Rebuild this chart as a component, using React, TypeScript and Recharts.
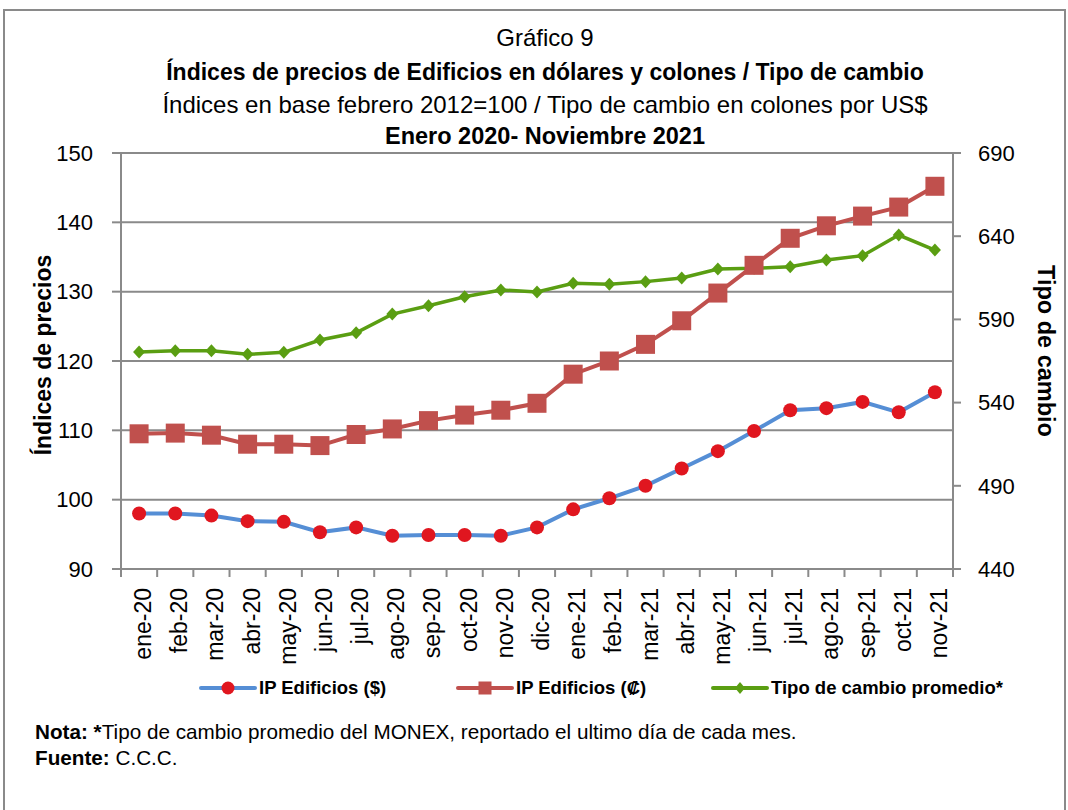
import { ComposedChart, Line, XAxis, YAxis, CartesianGrid } from "recharts";

const MESES = [
  "ene-20", "feb-20", "mar-20", "abr-20", "may-20", "jun-20", "jul-20", "ago-20",
  "sep-20", "oct-20", "nov-20", "dic-20", "ene-21", "feb-21", "mar-21", "abr-21",
  "may-21", "jun-21", "jul-21", "ago-21", "sep-21", "oct-21", "nov-21",
];

// IP Edificios ($)
const IP_DOLARES = [
  98.0, 98.0, 97.7, 96.9, 96.8, 95.3, 96.0, 94.8, 94.9, 94.9, 94.8, 96.0,
  98.6, 100.2, 102.0, 104.5, 107.0, 109.9, 112.9, 113.2, 114.1, 112.6, 115.5,
];

// IP Edificios (₡)
const IP_COLONES = [
  109.5, 109.6, 109.3, 108.0, 108.0, 107.8, 109.4, 110.2, 111.4, 112.2, 112.9, 113.9,
  118.1, 120.0, 122.4, 125.8, 129.8, 133.8, 137.7, 139.5, 140.9, 142.2, 145.2,
];

// Tipo de cambio promedio (eje derecho)
const TIPO_CAMBIO = [
  570.4, 571.2, 571.2, 569.0, 570.2, 577.6, 582.0, 593.2, 598.2, 603.6, 607.7, 606.5,
  611.7, 611.1, 612.7, 614.9, 620.3, 620.7, 621.7, 625.7, 628.3, 640.7, 631.7,
];

const TICKS_IZQ = [90, 100, 110, 120, 130, 140, 150];
const TICKS_DER = [440, 490, 540, 590, 640, 690];

const data = MESES.map((mes, i) => ({
  mes,
  usd: IP_DOLARES[i],
  crc: IP_COLONES[i],
  tc: TIPO_CAMBIO[i],
}));

const FONT = '"Liberation Sans", Arial, sans-serif';
const GRIS = "#8a8a8a";
const AZUL = "#558ED5";
const ROJO_DOT = "#E0161F";
const ROJO = "#C0504D";
const VERDE = "#5A9E12";

const PLOT_LEFT = 121;
const PLOT_RIGHT = 953;
const STEP = (PLOT_RIGHT - PLOT_LEFT) / MESES.length;

function MesTick(props: any) {
  const { x, y, payload, index } = props;
  return (
    <g>
      <line x1={x - STEP / 2} y1={y} x2={x - STEP / 2} y2={y + 8} stroke={GRIS} strokeWidth={2} />
      {index === MESES.length - 1 && (
        <line x1={x + STEP / 2} y1={y} x2={x + STEP / 2} y2={y + 8} stroke={GRIS} strokeWidth={2} />
      )}
      <text
        x={0}
        y={0}
        transform={`translate(${x + 12},${y + 19}) rotate(-90)`}
        textAnchor="end"
        fontSize={23}
        fontFamily={FONT}
        fill="#000"
      >
        {payload.value}
      </text>
    </g>
  );
}

function CircleDot(props: any) {
  const { cx, cy } = props;
  if (cx == null || cy == null) return null;
  return <circle cx={cx} cy={cy} r={7} fill={ROJO_DOT} />;
}

function SquareDot(props: any) {
  const { cx, cy } = props;
  if (cx == null || cy == null) return null;
  return <rect x={cx - 9.5} y={cy - 9.5} width={19} height={19} fill={ROJO} />;
}

function DiamondDot(props: any) {
  const { cx, cy } = props;
  if (cx == null || cy == null) return null;
  return (
    <path
      d={`M${cx},${cy - 6.5} L${cx + 6},${cy} L${cx},${cy + 6.5} L${cx - 6},${cy} Z`}
      fill={VERDE}
    />
  );
}

function LegendItem({ color, marker, label }: { color: string; marker: string; label: string }) {
  return (
    <div style={{ display: "flex", alignItems: "center", gap: 2 }}>
      <svg width={58} height={20}>
        <line x1={2} y1={10} x2={56} y2={10} stroke={color} strokeWidth={4} strokeLinecap="round" />
        {marker === "circle" && <circle cx={29} cy={10} r={6.5} fill={ROJO_DOT} />}
        {marker === "square" && <rect x={22.5} y={3.5} width={13} height={13} fill={ROJO} />}
        {marker === "diamond" && <path d="M29,4 L34,10 L29,16 L24,10 Z" fill={VERDE} />}
      </svg>
      <span style={{ fontWeight: "bold", fontSize: 18.5 }}>{label}</span>
    </div>
  );
}

export default function App() {
  return (
    <div
      style={{
        position: "absolute",
        left: 0,
        top: 0,
        width: 1068,
        height: 810,
        background: "#fff",
        fontFamily: FONT,
        color: "#000",
        overflow: "hidden",
      }}
    >
      <div
        style={{
          position: "absolute",
          left: 3,
          top: 9,
          width: 1059,
          height: 820,
          border: `2px solid ${GRIS}`,
        }}
      />

      <div style={{ position: "absolute", left: 0, width: 1090, textAlign: "center", top: 24, fontSize: 24 }}>
        Gráfico 9
      </div>
      <div style={{ position: "absolute", left: 0, width: 1090, textAlign: "center", top: 59, fontSize: 23, fontWeight: "bold" }}>
        Índices de precios de Edificios en dólares y colones / Tipo de cambio
      </div>
      <div style={{ position: "absolute", left: 0, width: 1090, textAlign: "center", top: 91, fontSize: 24 }}>
        Índices en base febrero 2012=100 / Tipo de cambio en colones por US$
      </div>
      <div style={{ position: "absolute", left: 0, width: 1090, textAlign: "center", top: 123, fontSize: 23.5, fontWeight: "bold" }}>
        Enero 2020- Noviembre 2021
      </div>

      <ComposedChart
        width={1068}
        height={810}
        data={data}
        margin={{ top: 153, right: 0, bottom: 141, left: 0 }}
        style={{ position: "absolute", left: 0, top: 0 }}
      >
        <CartesianGrid yAxisId="izq" vertical={false} stroke={GRIS} strokeWidth={2} />
        <XAxis
          dataKey="mes"
          interval={0}
          height={100}
          padding={{ left: STEP / 2, right: STEP / 2 }}
          tickLine={false}
          tickSize={0}
          tickMargin={0}
          axisLine={{ stroke: GRIS, strokeWidth: 2 }}
          tick={<MesTick />}
        />
        <YAxis
          yAxisId="izq"
          width={PLOT_LEFT}
          domain={[90, 150]}
          ticks={TICKS_IZQ}
          interval={0}
          tickSize={9}
          tickMargin={19}
          tickLine={{ stroke: GRIS, strokeWidth: 2 }}
          axisLine={{ stroke: GRIS, strokeWidth: 2 }}
          tick={{ fill: "#000", fontSize: 22, fontFamily: FONT }}
        />
        <YAxis
          yAxisId="der"
          orientation="right"
          width={1068 - PLOT_RIGHT}
          domain={[440, 690]}
          ticks={TICKS_DER}
          interval={0}
          tickSize={8}
          tickMargin={17}
          tickLine={{ stroke: GRIS, strokeWidth: 2 }}
          axisLine={{ stroke: GRIS, strokeWidth: 2 }}
          tick={{ fill: "#000", fontSize: 22, fontFamily: FONT }}
        />
        <Line
          yAxisId="der"
          dataKey="tc"
          stroke={VERDE}
          strokeWidth={3.5}
          dot={<DiamondDot />}
          isAnimationActive={false}
        />
        <Line
          yAxisId="izq"
          dataKey="crc"
          stroke={ROJO}
          strokeWidth={4}
          dot={<SquareDot />}
          isAnimationActive={false}
        />
        <Line
          yAxisId="izq"
          dataKey="usd"
          stroke={AZUL}
          strokeWidth={4}
          dot={<CircleDot />}
          isAnimationActive={false}
        />
      </ComposedChart>

      <div
        style={{
          position: "absolute",
          left: 43,
          top: 355,
          transform: "translate(-50%, -50%) rotate(-90deg)",
          fontWeight: "bold",
          fontSize: 23,
          whiteSpace: "nowrap",
        }}
      >
        Índices de precios
      </div>
      <div
        style={{
          position: "absolute",
          left: 1045,
          top: 351,
          transform: "translate(-50%, -50%) rotate(90deg)",
          fontWeight: "bold",
          fontSize: 23.5,
          whiteSpace: "nowrap",
        }}
      >
        Tipo de cambio
      </div>

      <div style={{ position: "absolute", left: 199, top: 677, display: "flex" }}>
        <LegendItem color={AZUL} marker="circle" label="IP Edificios ($)" />
      </div>
      <div style={{ position: "absolute", left: 456, top: 677, display: "flex" }}>
        <LegendItem color={ROJO} marker="square" label="IP Edificios (₡)" />
      </div>
      <div style={{ position: "absolute", left: 711, top: 677, display: "flex" }}>
        <LegendItem color={VERDE} marker="diamond" label="Tipo de cambio promedio*" />
      </div>

      <div style={{ position: "absolute", left: 35, top: 720, fontSize: 20.7 }}>
        <b>Nota: *</b>Tipo de cambio promedio del MONEX, reportado el ultimo día de cada mes.
      </div>
      <div style={{ position: "absolute", left: 35, top: 746, fontSize: 20.7 }}>
        <b>Fuente:</b> C.C.C.
      </div>
    </div>
  );
}
